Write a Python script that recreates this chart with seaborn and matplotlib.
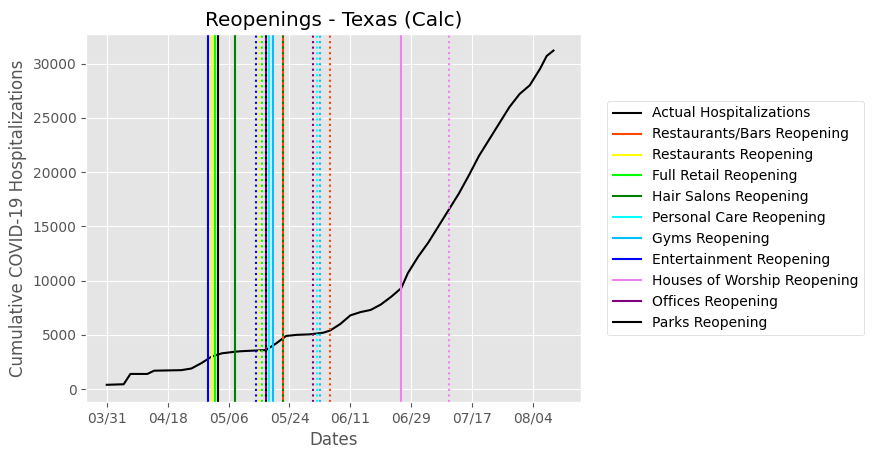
import pandas as pd
import matplotlib.pyplot as plt
import matplotlib.dates as mdates
import seaborn as sns

plt.style.use('ggplot')

hosp_dates = ['03-31', '04-05', '04-07', '04-12', '04-14', '04-22', '04-25', '04-28',
              '05-01', '05-04', '05-08', '05-10', '05-17', '05-20', '05-23', '05-26',
              '05-30', '06-03', '06-05', '06-08', '06-11', '06-14', '06-17', '06-20',
              '06-23', '06-26', '06-28', '07-01', '07-04', '07-07', '07-10', '07-13',
              '07-16', '07-19', '07-22', '07-25', '07-28', '07-31', '08-03', '08-06',
              '08-08', '08-10']
hosp_values = [400, 450, 1400, 1400, 1700, 1750, 1900, 2400,
               3000, 3300, 3450, 3500, 3600, 4200, 4900, 5000,
               5050, 5200, 5400, 6000, 6800, 7100, 7300, 7800,
               8500, 9300, 10700, 12200, 13500, 15000, 16500, 18000,
               19700, 21500, 23000, 24500, 26000, 27200, 28000, 29500,
               30700, 31200]

reopen_labels = ['Restaurants/Bars Reopening', 'Restaurants Reopening', 'Full Retail Reopening',
                 'Hair Salons Reopening', 'Personal Care Reopening', 'Gyms Reopening',
                 'Entertainment Reopening', 'Houses of Worship Reopening', 'Offices Reopening',
                 'Parks Reopening']
reopen_colors = ['orangered', 'yellow', 'lime', 'green', 'cyan', 'deepskyblue',
                 'blue', 'violet', 'purple', 'black']
reopen_first = ['05-22', '05-01', '05-02', '05-08', '05-18', '05-19',
                '04-30', '06-26', '05-17', '05-03']
reopen_second = ['06-05', '05-15', '05-16', '05-22', '06-01', '06-02',
                 '05-14', '07-10', '05-31', '05-17']

df = pd.DataFrame({'Date': pd.to_datetime(['2020-' + d for d in hosp_dates]),
                   'Hosp': hosp_values})

fig, ax = plt.subplots(figsize=(8.73, 4.57), dpi=100)
sns.lineplot(data=df, x='Date', y='Hosp', color='black', ax=ax, label='Actual Hospitalizations')
for lab, c, d1, d2 in zip(reopen_labels, reopen_colors, reopen_first, reopen_second):
    ax.axvline(pd.Timestamp('2020-' + d1), color=c, label=lab)
    ax.axvline(pd.Timestamp('2020-' + d2), color=c, linestyle=':')

ax.set_xticks(pd.date_range('2020-03-31', '2020-08-10', freq='18D'))
ax.xaxis.set_major_formatter(mdates.DateFormatter('%m/%d'))
ax.set_xlim(pd.Timestamp('2020-03-25'), pd.Timestamp('2020-08-18'))
ax.set_ylim(-1200, 32700)
ax.set_title('Reopenings - Texas (Calc)')
ax.set_xlabel('Dates')
ax.set_ylabel('Cumulative COVID-19 Hospitalizations')
ax.legend(loc='center left', bbox_to_anchor=(1.04, 0.5), facecolor='white')
fig.subplots_adjust(left=0.099, right=0.665, top=0.925, bottom=0.12)
fig.savefig('out.png', dpi=100)
